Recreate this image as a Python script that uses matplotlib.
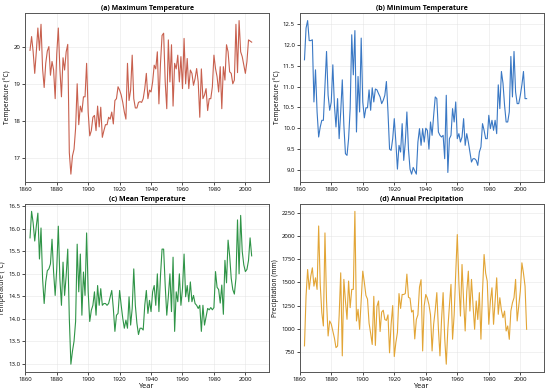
import numpy as np
import matplotlib
matplotlib.use('Agg')
import matplotlib.pyplot as plt

# Years of record
years = list(range(1863, 2005))

# (a) Maximum temperature (deg C)
tmax = [19.9, 20.27, 19.86, 19.28, 19.86, 20.5, 19.9, 20.6, 19.4, 18.9,
        19.55, 19.88, 20.0, 19.23, 19.6, 19.37, 18.6, 19.8, 20.5, 19.4,
        18.65, 19.7, 19.37, 19.86, 20.06, 17.15, 16.57, 17.06, 17.24, 17.8,
        19.0, 17.9, 18.4, 18.24, 18.65, 18.65, 19.55, 18.24, 17.6, 17.74,
        18.1, 18.15, 17.74, 18.4, 17.84, 18.37, 17.56, 17.74, 17.9, 17.9,
        18.1, 18.05, 18.24, 17.92, 18.55, 18.6, 18.92, 18.83, 18.7, 18.5,
        18.24, 18.05, 19.55, 18.55, 18.83, 19.77, 18.6, 18.35, 18.35, 18.5,
        18.52, 18.5, 18.6, 18.87, 19.28, 18.6, 18.83, 18.78, 19.05, 19.5,
        19.4, 19.86, 18.46, 19.55, 20.3, 20.36, 19.05, 18.33, 20.18, 19.05,
        20.05, 18.4, 19.55, 19.4, 19.77, 19.05, 19.73, 18.87, 20.22, 19.0,
        19.68, 18.87, 19.37, 19.28, 18.96, 19.14, 19.41, 19.05, 18.1, 19.4,
        18.6, 18.7, 18.87, 18.28, 18.6, 18.6, 18.92, 19.77, 19.41, 19.19,
        18.78, 19.46, 18.33, 19.46, 19.1, 20.05, 19.86, 19.32, 19.28, 19.0,
        19.1, 20.6, 19.3, 20.7, 19.86, 19.73, 19.5, 19.28, 19.6, 20.18,
        20.15, 20.12]

# (b) Minimum temperature (deg C)
tmin = [11.64, 12.4, 12.58, 12.1, 12.1, 12.12, 10.63, 11.4, 10.39, 9.79,
        10.03, 10.19, 10.19, 11.04, 11.84, 10.79, 10.43, 10.63, 11.52, 10.55,
        10.03, 10.71, 9.75, 10.39, 11.16, 10.07, 9.39, 9.35, 9.75, 10.47,
        12.24, 11.28, 12.34, 9.91, 11.24, 10.39, 12.16, 10.63, 10.25, 10.49,
        10.49, 10.92, 10.43, 10.97, 10.63, 10.94, 10.92, 10.83, 10.75, 10.59,
        10.67, 10.79, 11.12, 10.39, 9.5, 9.47, 9.75, 10.23, 9.67, 9.02,
        9.59, 9.43, 10.11, 9.23, 9.67, 10.39, 9.5, 9.02, 8.9, 9.06,
        8.98, 8.9, 9.67, 9.99, 9.59, 9.99, 9.67, 10.0, 9.95, 9.5,
        10.15, 9.83, 10.31, 10.75, 10.71, 9.91, 9.83, 9.79, 9.83, 9.27,
        10.79, 8.94, 9.75, 9.83, 10.47, 10.15, 10.63, 9.75, 9.87, 9.67,
        9.79, 10.23, 9.59, 9.87, 9.67, 9.43, 9.19, 9.27, 9.27, 9.23,
        9.11, 9.43, 9.55, 10.11, 9.95, 9.75, 9.75, 10.31, 9.99, 10.19,
        9.95, 10.19, 9.87, 11.04, 10.47, 11.36, 11.08, 10.55, 10.15, 10.15,
        10.39, 11.72, 10.75, 11.84, 10.87, 10.59, 10.59, 10.79, 11.04, 11.36,
        10.71, 10.71]

# (c) Mean temperature (deg C)
tmean = [15.8, 16.39, 16.13, 15.73, 16.06, 16.35, 15.33, 16.02, 14.89, 14.34,
         14.82, 15.07, 15.11, 15.22, 15.77, 15.04, 14.52, 15.11, 16.06, 14.89,
         14.3, 15.26, 14.52, 14.96, 15.55, 14.01, 12.99, 13.28, 13.5, 13.94,
         15.66, 14.6, 15.44, 14.08, 15.04, 14.52, 15.91, 14.6, 13.94, 14.19,
         14.3, 14.6, 14.08, 14.74, 14.3, 14.67, 14.3, 14.34, 14.34, 14.3,
         14.34, 14.49, 14.63, 14.23, 13.72, 14.08, 14.12, 14.63, 14.3, 14.01,
         13.79, 13.97, 13.79, 14.49, 13.86, 14.23, 15.11, 14.3, 13.9, 13.65,
         13.79, 13.79, 13.75, 14.3, 14.63, 14.12, 14.41, 14.16, 14.6, 14.74,
         14.3, 15.0, 14.16, 14.96, 15.55, 15.55, 14.74, 14.08, 14.5, 15.0,
         14.16, 15.37, 13.72, 14.6, 14.38, 15.0, 14.3, 14.67, 15.44, 14.49,
         14.74, 14.38, 14.82, 14.38, 14.52, 14.34, 14.3, 14.23, 14.3, 13.72,
         14.3, 13.86, 14.05, 14.23, 14.2, 14.25, 14.2, 14.25, 15.05, 14.7,
         14.65, 14.35, 14.75, 14.1, 15.3, 14.8, 15.75, 15.4, 14.9, 14.65,
         14.55, 14.9, 16.2, 15.0, 16.3, 15.5, 15.2, 15.05, 15.1, 15.3,
         15.8, 15.4]

# (d) Annual precipitation (mm)
precip = [815, 1353, 1640, 1425, 1568, 1658, 1460, 1550, 1425, 2110,
          1480, 1174, 1030, 2035, 1300, 922, 1084, 1050, 976, 900,
          796, 813, 1138, 1604, 707, 1533, 1300, 1102, 1515, 1228,
          1425, 1425, 2268, 1084, 1210, 994, 1300, 1622, 1500, 1360,
          1320, 1060, 950, 830, 1350, 820, 1240, 1300, 970, 1180,
          1200, 1100, 1090, 1150, 740, 1050, 1250, 700, 850, 960,
          1380, 1220, 1370, 1370, 1380, 1590, 1340, 1330, 1180, 1200,
          890, 1100, 1150, 1450, 1530, 760, 1250, 1370, 1330, 1260,
          1150, 760, 1050, 1200, 1390, 1000, 707, 1100, 1390, 900,
          617, 1000, 1250, 1479, 887, 1150, 1600, 2017, 1500, 1137,
          1694, 1300, 976, 1400, 1622, 1191, 1533, 1250, 994, 1300,
          1100, 1390, 887, 1400, 1802, 1600, 1514, 1048, 1300, 1442,
          1048, 1300, 1550, 1156, 1335, 1200, 1120, 1191, 976, 1030,
          886, 1191, 1280, 1335, 1533, 1084, 1250, 1406, 1712, 1600,
          1460, 994]

titles = ['(a) Maximum Temperature', '(b) Minimum Temperature',
          '(c) Mean Temperature', '(d) Annual Precipitation']
ylabels = ['Temperature (°C)', 'Temperature (°C)',
           'Temperature (°C)', 'Precipitation (mm)']
series = [tmax, tmin, tmean, precip]
colors = ['#c8604e', '#3a78c4', '#2f9447', '#e2a536']

plt.rcParams['font.family'] = ['Open Sans', 'DejaVu Sans']

fig = plt.figure(figsize=(5.5, 3.91), dpi=100)
boxes = [[0.046, 0.535, 0.443, 0.432],
         [0.545, 0.535, 0.444, 0.432],
         [0.046, 0.049, 0.443, 0.430],
         [0.545, 0.049, 0.444, 0.430]]

for i in range(4):
    ax = fig.add_axes(boxes[i])
    ax.plot(years, series[i], color=colors[i], lw=0.8)
    ax.set_title(titles[i], fontsize=5, fontweight='bold', pad=2)
    ax.set_ylabel(ylabels[i], fontsize=4.8, labelpad=1.5)
    ax.set_xlim(1860, 2015)
    ax.set_xticks([1860, 1880, 1900, 1920, 1940, 1960, 1980, 2000])
    ax.tick_params(labelsize=4.3, length=2, width=0.5, pad=1.5)
    ax.grid(True, color='#dddddd', lw=0.4, alpha=0.7)
    for s in ax.spines.values():
        s.set_color('#555555')
        s.set_linewidth(0.7)
    if i >= 2:
        ax.set_xlabel('Year', fontsize=5.2, labelpad=1)

fig.savefig('out.png', dpi=100)
